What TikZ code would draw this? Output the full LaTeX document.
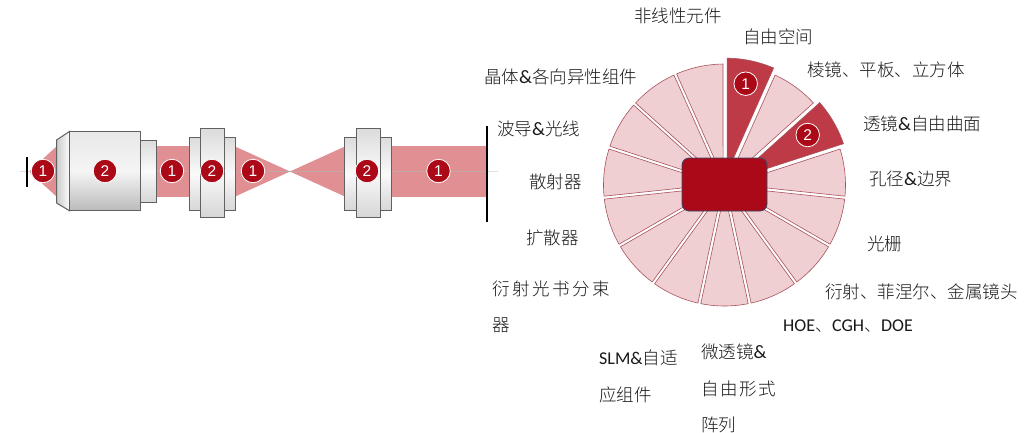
\documentclass[tikz,border=0pt]{standalone}
\usepackage{fontspec}
\setmainfont{Noto Sans CJK SC}[UprightFont=* Light]
\newfontfamily\latinfont{Carlito}
\newfontfamily\digitfont{Liberation Sans}
\definecolor{deepred}{HTML}{AB0917}
\definecolor{beam}{HTML}{E08F92}
\definecolor{wedgelight}{HTML}{EFCFD2}
\definecolor{wedgedark}{HTML}{BE3A47}
\definecolor{wedgeedge}{HTML}{A9525B}
\definecolor{hubedge}{HTML}{34496B}
\newcommand{\am}{{\latinfont\fontsize{19}{17}\selectfont\&}}
\newcommand{\lat}[1]{{\latinfont\fontsize{18}{17}\selectfont #1}}
\tikzset{x=1pt,y=-1pt,
  badge/.style={circle,fill=deepred,draw=white,line width=0.8pt,minimum size=23.5pt,inner sep=0pt,text=white,font=\digitfont\fontsize{15.5}{16}\selectfont},
  beamfill/.style={fill=beam,draw=none},
  barrel/.style={draw=black!62,line width=1pt,top color=black!14,bottom color=black!16,middle color=black!2},
  bodybarrel/.style={draw=black!62,line width=1pt,top color=black!9,bottom color=black!27,middle color=black!4},
  frontcone/.style={draw=black!62,line width=1pt,left color=black!20,right color=black!1},
  label/.style={anchor=west,inner sep=0pt,text=black!90,font=\fontsize{17.5}{17.5}\selectfont},
  wedgel/.style={fill=wedgelight,draw=wedgeedge,line width=.6pt},
  wedged/.style={fill=wedgedark,draw=wedgeedge,line width=.6pt},
}
% a wheel wedge from angle #1 clockwise over 24 deg, moved out by #2, with parallel gaps
\newcommand{\wheelwedge}[3]{%
  \pgfmathsetmacro{\mid}{#1+12}
  \pgfmathsetmacro{\ox}{724.5+#2*sin(\mid)}
  \pgfmathsetmacro{\oy}{185-#2*cos(\mid)}
  \pgfmathsetmacro{\ax}{\ox+7*sin(\mid)}
  \pgfmathsetmacro{\ay}{\oy-7*cos(\mid)}
  \path[#3] plot[domain=#1+0.7:#1+23.3,samples=12] ({\ox+121*sin(\x)},{\oy-121*cos(\x)}) -- (\ax,\ay) -- cycle;
}
\begin{document}
\begin{tikzpicture}
\useasboundingbox (0,0) rectangle (1027,432);
\fill[white] (0,0) rectangle (1027,432);
% beams
\fill[beamfill] (29,171.5) -- (57,146) -- (57,197) -- cycle;
\fill[beamfill] (155,146) rectangle (190,197);
\fill[beamfill] (234,146) -- (290,171.5) -- (346,146) -- (346,197) -- (290,171.5) -- (234,197) -- cycle;
\fill[beamfill] (390,146) rectangle (487,197);
\draw[black!12] (20,171.5) -- (498,171.5);
\draw[beam!75!black,opacity=.5] (30,171.5) -- (487,171.5);
% screens
\draw[black,line width=1.2pt] (27,157) -- (27,186.5);
\draw[black,line width=1.7pt] (487.3,126) -- (487.3,222);
% objective
\draw[frontcone] (56.5,140) -- (69.5,131.5) -- (69.5,210.7) -- (56.5,203) -- cycle;
\draw[barrel] (140,140) rectangle (156.5,202);
\draw[bodybarrel] (69.5,131.5) rectangle (140,210.7);
% lens 1
\draw[barrel] (189,137) rectangle (235,210.5);
\draw[barrel] (200,128) rectangle (224.3,217);
% lens 2
\draw[barrel] (344.7,137) rectangle (391,210.5);
\draw[barrel] (356,128) rectangle (380,217);
% badges left
\node[badge] (b1) at (43,171) {1};
\node[badge] (b2) at (105,171) {2};
\node[badge] (b3) at (172,171) {1};
\node[badge] (b4) at (212,171) {2};
\node[badge] (b5) at (253,171) {1};
\node[badge] (b6) at (367,171) {2};
\node[badge] (b7) at (438.5,171) {1};
% wheel
\foreach \a in {24,72,96,120,144,168,192,216,240,264,288,312,336}{\wheelwedge{\a}{0}{wedgel}}
\wheelwedge{0}{6}{wedged}
\wheelwedge{48}{5}{wedged}
\node[draw=hubedge,fill=deepred,rounded corners=7pt,line width=.8pt,minimum width=85pt,minimum height=53pt,inner sep=0pt] (hub) at (724.5,184.5) {};
\node[badge] (w1) at (745.7,83.7) {1};
\node[badge] (w2) at (807.7,135) {2};
% labels
\node[label] (t1) at (634,15.5) {非线性元件};
\node[label] (t2) at (743,36.5) {自由空间};
\node[label] (t3) at (807,69.5) {棱镜、平板、立方体};
\node[label] (t4) at (863,123.5) {透镜\am 自由曲面};
\node[label] (t5) at (869,178.5) {孔径\am 边界};
\node[label] (t6) at (867,243.5) {光栅};
\node[label] (t7) at (825,291.5) {衍射、菲涅尔、金属镜头};
\node[label,font=\fontsize{17}{17}\selectfont] (t8) at (783,326) {\lat{HOE}、\lat{CGH}、\lat{DOE}};
\node[label] (t9) at (701,351.5) {微透镜\am};
\node[label,font=\fontsize{17.5}{17.5}\selectfont\addfontfeature{LetterSpace=10}] (t10) at (701,388.5) {自由形式};
\node[label] (t11) at (701,424.5) {阵列};
\node[label] (t12) at (599,357.5) {\lat{SLM\&}自适};
\node[label] (t13) at (599,394.5) {应组件};
\node[label,font=\fontsize{17.5}{17.5}\selectfont\addfontfeature{LetterSpace=15}] (t14) at (492,288.5) {衍射光书分束};
\node[label] (t15) at (492,325.5) {器};
\node[label] (t16) at (526,237.5) {扩散器};
\node[label] (t17) at (529,181.5) {散射器};
\node[label] (t18) at (497,128.5) {波导\am 光线};
\node[label] (t19) at (484,76.5) {晶体\am 各向异性组件};
\end{tikzpicture}
\end{document}
